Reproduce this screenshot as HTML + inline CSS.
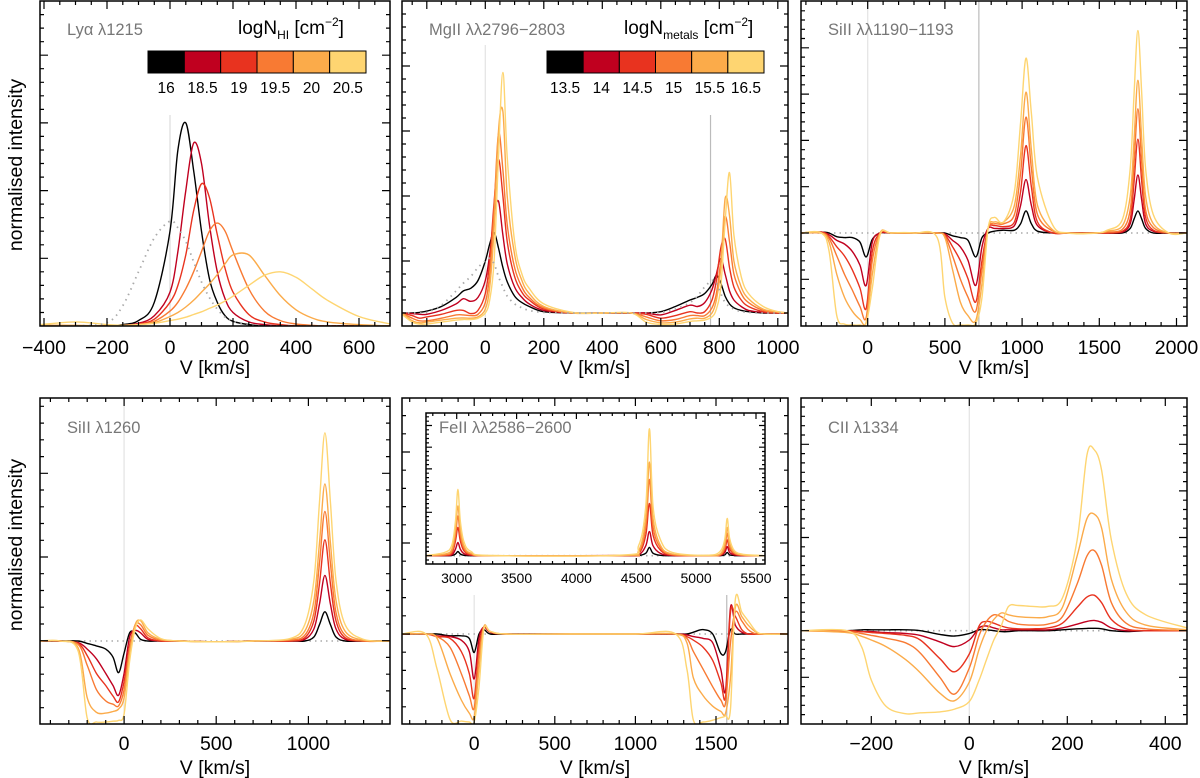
<!DOCTYPE html>
<html><head><meta charset="utf-8">
<style>
html,body{margin:0;padding:0;background:#fff;}
svg{display:block;font-family:"Liberation Sans",sans-serif;}
</style></head>
<body>
<svg id="fig" width="1200" height="778" viewBox="0 0 1200 778" xmlns="http://www.w3.org/2000/svg">
<defs></defs>
<text x="0" y="0" transform="translate(22,165) rotate(-90)" text-anchor="middle" font-size="19.5">normalised intensity</text>
<text x="0" y="0" transform="translate(22,545) rotate(-90)" text-anchor="middle" font-size="19.5">normalised intensity</text>
</svg>
<script>
// ---------- DATA ----------
const seriesColors=['#000000','#c0001f','#e8331f','#f87a33','#fbab4a','#fed571'];
const hiLabels=['16','18.5','19','19.5','20','20.5'];
const metalLabels=['13.5','14','14.5','15','15.5','16.5'];

// Ly-alpha
const lyaV=[-410,-300,-200,-150,-100,-50,0,25,50,75,100,125,150,175,200,250,300,350,400,450,500,600,700];
const lyaBlack=[0,0,0,0.02,0.08,0.35,1.4,2.6,3.0,2.3,1.4,0.7,0.35,0.15,0.07,0.02,0,0,0,0,0,0,0];
const lyaDarkRed=[0,0,0,0.01,0.04,0.15,0.5,1.1,2.0,2.7,2.4,1.5,0.8,0.4,0.2,0.06,0.02,0,0,0,0,0,0];
const lyaRed=[0,0,0,0.01,0.03,0.1,0.35,0.6,1.05,1.7,2.1,1.9,1.35,0.85,0.5,0.17,0.06,0.02,0,0,0,0,0];
const lyaOrange=[0,0,0,0.01,0.02,0.07,0.22,0.35,0.55,0.8,1.1,1.4,1.52,1.4,1.1,0.55,0.22,0.08,0.03,0.01,0,0,0];
const lyaLtOrange=[0.01,0.01,0,0.01,0.02,0.05,0.14,0.2,0.28,0.38,0.5,0.62,0.76,0.92,1.05,1.05,0.75,0.45,0.24,0.12,0.06,0.02,0];
const lyaYellow=[0.02,0.06,0.02,0.01,0.02,0.04,0.08,0.1,0.13,0.17,0.21,0.26,0.31,0.37,0.44,0.6,0.75,0.8,0.72,0.55,0.38,0.14,0.03];
const lyaIntrinsic=[0,0,0.05,0.3,0.8,1.3,1.55,1.45,1.25,0.95,0.65,0.42,0.25,0.13,0.07,0.01,0,0,0,0,0,0,0];

// MgII
const mgV=[-285,-250,-225,-200,-150,-100,-75,-50,-25,0,15,30,45,60,75,100,125,150,200,300,400,500,550,600,650,700,725,750,775,790,805,820,835,850,875,900,950,1000,1035];
const mgBlack=[1,1,1.05,1.15,1.5,2.2,2.7,2.9,3.5,5.0,6.3,7.2,6.0,4.5,3.4,2.3,1.8,1.5,1.1,1,1,1,1,1.1,1.5,2.0,2.2,2.5,3.2,3.9,3.3,2.3,1.7,1.4,1.2,1.1,1,1,1];
const mgDarkRed=[1,0.95,0.9,0.9,1.2,1.7,2.1,1.9,2.2,3.5,5.5,8.5,9.6,7,4.8,3,2.2,1.7,1.2,1,1,1,1,0.85,1.2,1.6,1.5,1.8,2.8,4.0,5.2,4.0,2.7,2.0,1.5,1.2,1.05,1,1];
const mgRed=[1,0.8,0.6,0.7,0.9,1.2,1.2,0.95,1.2,2.5,5,9.5,12.8,10,6.5,3.8,2.6,2.0,1.3,1,1,1,0.9,0.6,0.8,1.1,1.0,1.1,2.0,3.5,6.0,6.7,4.5,3.0,2.0,1.5,1.1,1,1];
const mgOrange=[1,0.6,0.4,0.4,0.6,0.85,0.85,0.8,0.9,1.8,4,9,14.8,12,7.8,4.5,3,2.2,1.4,1,1,1,0.7,0.4,0.5,0.8,0.8,0.8,1.4,2.5,5,8.4,6.5,4,2.5,1.8,1.2,1.05,1];
const mgLtOrange=[1,0.4,0.25,0.3,0.45,0.6,0.62,0.6,0.7,1.3,3,7.5,15,16.5,10,5.5,3.5,2.5,1.5,1,1,1,0.5,0.25,0.3,0.55,0.6,0.6,1.0,2,4.5,9.8,8.5,5,3,2.1,1.3,1.1,1];
const mgYellow=[0.9,0.3,0.15,0.15,0.3,0.45,0.5,0.5,0.6,1.0,2,5,13,19.5,13,6.5,4,2.9,1.7,1.05,1,1,0.3,0.12,0.15,0.35,0.4,0.45,0.7,1.3,3,8,11.8,7,3.8,2.5,1.5,1.1,1];
const mgIntrinsic=[1,1,1,1.05,1.6,2.7,3.3,3.8,4.5,5.0,5.2,4.8,3.8,3,2.3,1.7,1.4,1.2,1.05,1,1,1,1,1.05,1.3,1.8,2.3,3.0,3.5,3.3,2.5,1.8,1.5,1.3,1.1,1.05,1,1,1];

// SiII 1190-1193
const si1190V=[-432,-300,-250,-200,-150,-100,-50,-10,30,80,150,300,450,500,550,600,650,700,740,780,820,880,950,990,1025,1060,1100,1200,1300,1480,1550,1650,1700,1725,1750,1775,1800,1850,1950,2068];
const si1190Black=[1,1.01,1.0,0.96,0.95,0.95,0.9,0.74,0.93,1.0,1.0,1.0,1.0,1.0,0.97,0.95,0.92,0.74,0.95,1.0,1.02,1.03,1.03,1.1,1.24,1.1,1.02,1.0,1.0,1.0,1.0,1.0,1.05,1.15,1.24,1.15,1.05,1.0,1.0,1.0];
const si1190DarkRed=[1,1.01,0.98,0.92,0.88,0.8,0.65,0.43,0.9,1.0,1.0,1.0,1.0,0.99,0.92,0.85,0.7,0.43,0.85,1.05,1.05,1.05,1.08,1.3,1.58,1.3,1.08,1.0,1.0,1.0,1.0,1.01,1.1,1.35,1.63,1.35,1.1,1.02,1.0,1.0];
const si1190Red=[1,1.01,0.96,0.85,0.75,0.6,0.4,0.18,0.8,1.0,1.0,1.0,1.0,0.98,0.85,0.7,0.5,0.25,0.7,1.05,1.08,1.07,1.12,1.45,1.95,1.5,1.12,1.0,1.0,1.0,1.0,1.02,1.15,1.55,2.02,1.55,1.17,1.03,1.0,1.0];
const si1190Orange=[1,1.0,0.94,0.75,0.55,0.38,0.2,0.08,0.7,1.0,1.0,1.0,1.0,0.97,0.75,0.5,0.3,0.15,0.6,1.05,1.1,1.1,1.2,1.65,2.26,1.7,1.2,1.02,1.0,1.0,1.01,1.04,1.25,1.75,2.35,1.75,1.25,1.06,1.0,1.0];
const si1190LtOrange=[1,1.0,0.9,0.55,0.3,0.15,0.06,0.03,0.55,1.0,1.0,1.0,1.0,0.95,0.6,0.25,0.1,0.05,0.45,1.05,1.12,1.12,1.3,1.85,2.53,1.9,1.3,1.03,1.0,1.0,1.02,1.08,1.4,2.0,2.66,2.0,1.4,1.1,1.0,1.0];
const si1190Yellow=[1,1.0,0.8,0.1,0.01,0.0,0.0,0.02,0.4,0.98,1.0,1.0,0.95,0.3,0.02,0.0,0.0,0.02,0.3,1.05,1.17,1.12,1.45,2.2,2.9,2.3,1.6,1.08,1.0,1.0,1.03,1.15,1.7,2.5,3.2,2.5,1.7,1.2,1.0,1.0];

// SiII 1260
const si1260V=[-456,-350,-250,-200,-150,-100,-60,-30,0,30,60,90,130,200,300,500,700,900,980,1030,1060,1090,1120,1150,1200,1300,1443];
const si1260Black=[1,1.0,1.0,0.97,0.94,0.9,0.8,0.61,0.85,1.1,1.1,1.02,1.0,1.0,1.0,0.99,1.0,1.0,1.0,1.05,1.2,1.36,1.2,1.05,1.0,1.0,1.0];
const si1260DarkRed=[1,1.0,0.98,0.9,0.78,0.6,0.45,0.33,0.6,1.05,1.13,1.1,1.02,1.0,1.0,0.99,1.0,1.0,1.02,1.15,1.45,1.81,1.45,1.15,1.02,1.0,1.0];
const si1260Red=[1,1.0,0.97,0.82,0.6,0.45,0.32,0.25,0.5,0.95,1.18,1.15,1.04,1.0,1.0,0.99,1.0,1.0,1.04,1.25,1.7,2.25,1.7,1.25,1.04,1.0,1.0];
const si1260Orange=[1,1.0,0.96,0.7,0.4,0.26,0.22,0.2,0.4,0.9,1.2,1.2,1.07,1.01,1.0,0.99,1.0,1.01,1.07,1.35,1.95,2.6,1.95,1.35,1.07,1.0,1.0];
const si1260LtOrange=[1,1.0,0.92,0.3,0.12,0.11,0.13,0.16,0.3,0.85,1.2,1.25,1.1,1.02,1.0,0.99,1.0,1.02,1.12,1.5,2.2,2.94,2.2,1.5,1.12,1.01,1.0];
const si1260Yellow=[1,1.0,0.88,0.05,0.0,0.0,0.01,0.02,0.1,0.75,1.15,1.26,1.15,1.03,1.0,0.99,1.0,1.03,1.2,1.75,2.7,3.57,2.7,1.75,1.2,1.02,1.0];

// FeII main
const feV=[-449,-300,-230,-150,-80,-30,0,30,60,100,200,600,1000,1250,1320,1360,1420,1480,1530,1560,1590,1620,1660,1700,1750,1800,1947];
const feBlack=[1,1.0,1.0,0.98,0.98,0.95,0.79,1.0,1.05,1.0,1.0,1.0,1.0,1.0,1.0,1.02,1.05,1.0,0.78,0.8,1.05,1.0,1.0,1.0,1.0,1.0,1.0];
const feDarkRed=[1,1.0,0.98,0.97,0.93,0.8,0.49,0.95,1.08,1.02,1.0,1.0,1.0,1.0,0.99,0.97,0.95,0.9,0.6,0.36,1.3,1.1,1.02,1.0,1.0,1.0,1.0];
const feRed=[1,1.0,0.97,0.95,0.8,0.55,0.27,0.85,1.08,1.02,1.0,1.0,1.0,1.0,0.97,0.93,0.85,0.7,0.45,0.29,1.25,1.2,1.05,1.0,1.0,1.0,1.0];
const feOrange=[1,1.0,0.97,0.85,0.55,0.3,0.16,0.75,1.08,1.03,1.0,1.0,1.0,1.0,0.95,0.8,0.6,0.4,0.25,0.22,0.9,1.25,1.15,1.05,1.0,1.0,1.0];
const feLtOrange=[1,1.0,0.95,0.55,0.25,0.1,0.06,0.6,1.08,1.03,1.0,1.0,1.0,1.0,0.9,0.5,0.3,0.18,0.12,0.1,0.5,1.3,1.2,1.1,1.02,1.0,1.0];
const feYellow=[1,1.0,0.6,0.03,0.01,0.0,0.0,0.4,1.05,1.03,1.0,1.0,1.0,1.0,0.6,0.02,0.0,0.02,0.05,0.07,0.15,1.39,1.25,1.15,1.03,1.0,1.0];

// FeII inset (fluorescent)
const feInsetV=[2738,2900,2960,2990,3010,3030,3060,3120,3300,4400,4520,4580,4610,4640,4700,4800,5100,5200,5240,5260,5280,5320,5400,5576];
const feInsetBlack=[1,1,1.02,1.2,1.5,1.2,1.05,1.0,1,1,1.02,1.3,2.0,1.3,1.05,1,1,1,1.1,1.4,1.1,1.02,1,1];
const feInsetDarkRed=[1,1.02,1.1,1.8,2.6,1.8,1.25,1.05,1,1,1.1,2.2,3.9,2.2,1.3,1.03,1,1.02,1.4,2.1,1.4,1.1,1,1];
const feInsetRed=[1,1.05,1.3,2.8,4.4,2.8,1.6,1.1,1,1.02,1.25,3.5,7.3,3.5,1.7,1.08,1,1.05,1.7,2.9,1.8,1.2,1.02,1];
const feInsetOrange=[1,1.1,1.5,3.5,5.8,3.5,1.9,1.2,1,1.03,1.4,4.5,10.2,4.5,2.0,1.12,1,1.1,2.0,3.7,2.1,1.3,1.05,1];
const feInsetLtOrange=[1,1.2,1.8,4.2,7.0,4.2,2.2,1.3,1,1.05,1.6,5.5,12.3,5.5,2.3,1.2,1.02,1.2,2.4,4.4,2.5,1.4,1.08,1];
const feInsetYellow=[1,1.4,2.3,5.2,9.0,5.2,2.7,1.5,1.02,1.1,2.2,7.0,16.3,7.0,3.0,1.4,1.05,1.5,3.0,5.5,3.1,1.6,1.15,1];

// CII
const ciiV=[-343,-250,-220,-200,-170,-130,-100,-60,-30,0,20,35,50,65,80,100,130,160,190,220,240,255,270,290,320,360,444];
const ciiBlack=[1,1,1.01,1.01,1.01,1.01,1.0,0.96,0.943,0.97,1.01,1.01,1.0,0.99,0.99,1.0,1.0,1.0,1.01,1.02,1.025,1.026,1.02,1.0,0.99,1.0,1.0];
const ciiDarkRed=[1,1,0.99,0.99,0.98,0.97,0.95,0.88,0.83,0.9,1.03,1.05,1.03,1.01,1.01,1.01,1.01,1.01,1.03,1.07,1.1,1.11,1.09,1.03,1.0,1.0,1.0];
const ciiRed=[1,1,0.99,0.98,0.97,0.95,0.9,0.7,0.56,0.75,1.05,1.1,1.08,1.05,1.03,1.02,1.02,1.03,1.08,1.25,1.36,1.38,1.3,1.12,1.02,1.0,1.0];
const ciiOrange=[1,0.99,0.97,0.95,0.92,0.87,0.76,0.5,0.32,0.6,0.95,1.1,1.17,1.15,1.1,1.07,1.06,1.07,1.15,1.5,1.8,1.86,1.7,1.3,1.08,1.02,1.0];
const ciiLtOrange=[1,0.98,0.94,0.9,0.83,0.69,0.55,0.33,0.25,0.45,0.8,1.0,1.12,1.19,1.17,1.15,1.14,1.15,1.25,1.8,2.2,2.25,2.1,1.55,1.2,1.06,1.01];
const ciiYellow=[1,1.0,0.83,0.47,0.19,0.11,0.12,0.13,0.16,0.24,0.47,0.69,0.9,1.05,1.26,1.27,1.26,1.26,1.35,1.97,2.88,2.94,2.72,1.97,1.4,1.17,1.03];

// tick labels
const lyaTicks=[-400,-200,0,200,400,600];
const mgTicks=[-200,0,200,400,600,800,1000];
const si1190Ticks=[0,500,1000,1500,2000];
const si1260Ticks=[0,500,1000];
const feTicks=[0,500,1000,1500];
const feInsetTicks=[3000,3500,4000,4500,5000,5500];
const ciiTicks=[-200,0,200,400];

// ---------- DRAWING ----------
const NS='http://www.w3.org/2000/svg';
const svg=document.getElementById('fig');
function mk(tag,attrs,parent){const e=document.createElementNS(NS,tag);for(const k in attrs)e.setAttribute(k,attrs[k]);(parent||svg).appendChild(e);return e;}
function fmt(v){return v<0?'\u2212'+(-v):String(v);}
function smooth(pts){
  let d='M'+pts[0][0].toFixed(1)+','+pts[0][1].toFixed(1);
  for(let i=0;i<pts.length-1;i++){
    const p0=pts[i-1]||pts[i],p1=pts[i],p2=pts[i+1],p3=pts[i+2]||p2;
    const c1x=p1[0]+(p2[0]-p0[0])/6,c1y=p1[1]+(p2[1]-p0[1])/6;
    const c2x=p2[0]-(p3[0]-p1[0])/6,c2y=p2[1]-(p3[1]-p1[1])/6;
    d+='C'+c1x.toFixed(1)+','+c1y.toFixed(1)+' '+c2x.toFixed(1)+','+c2y.toFixed(1)+' '+p2[0].toFixed(1)+','+p2[1].toFixed(1);
  }
  return d;
}
let clipId=0;
function panel(c){
  const g=mk('g',{});
  
  
  const sx=v=>c.x0+(v-c.xmin)/(c.xmax-c.xmin)*(c.x1-c.x0);
  const sy=u=>c.yZero-u*c.ppu;
  const id='clip'+(clipId++);
  const cp=mk('clipPath',{id:id},svg.querySelector('defs'));
  mk('rect',{x:c.x0,y:c.y0,width:c.x1-c.x0,height:c.y1-c.y0},cp);
  const plot=mk('g',{'clip-path':'url(#'+id+')'},g);
  (c.vlines||[]).forEach(vl=>{
    const l=mk('line',{x1:sx(vl.v),x2:sx(vl.v),y1:vl.top,y2:c.y1,stroke:vl.color,'stroke-width':1.2},plot);
    
    
  });
  if(c.continuum){
    const l=mk('line',{x1:c.x0,x2:c.x1,y1:sy(1),y2:sy(1),stroke:'#aaaaaa','stroke-width':1.6,'stroke-dasharray':'1.5,4'},plot);
    
    
  }
  c.series.forEach((s,i)=>{
    const pts=c.v.map((v,j)=>[sx(v),sy(s[j])]);
    const p=mk('path',{d:smooth(pts),fill:'none',stroke:seriesColors[i],'stroke-width':1.4,'stroke-linejoin':'round'},plot);
    
    
  });
  if(c.intrinsic){
    const pts=c.v.map((v,j)=>[sx(v),sy(c.intrinsic[j])]);
    const p=mk('path',{d:smooth(pts),fill:'none',stroke:'#aaaaaa','stroke-width':1.8,'stroke-dasharray':'1.5,4.5'},plot);
    
    
  }
  const fr=mk('rect',{x:c.x0,y:c.y0,width:c.x1-c.x0,height:c.y1-c.y0,fill:'none',stroke:'#000','stroke-width':1.5},g);
  
  
  let tk='';
  const first=Math.ceil(c.xmin/c.minor)*c.minor;
  for(let v=first;v<=c.xmax;v+=c.minor){
    const X=sx(v).toFixed(1);
    const major=Math.abs(v/c.major-Math.round(v/c.major))<1e-6;
    const L=major?c.tl:c.tl/2;
    tk+='M'+X+','+c.y1+'v'+(-L)+'M'+X+','+c.y0+'v'+L;
  }
  const ys=c.yStep/5;
  for(let k=-60;k<=60;k++){
    const Y=c.yAnchor+k*ys;
    if(Y<=c.y0+1||Y>=c.y1-1)continue;
    const L=(k%5===0)?c.tl:c.tl/2;
    tk+='M'+c.x0+','+Y.toFixed(1)+'h'+L+'M'+c.x1+','+Y.toFixed(1)+'h'+(-L);
  }
  const tp=mk('path',{d:tk,stroke:'#000','stroke-width':1.2,fill:'none'},g);
  
  
  c.ticks.forEach(v=>{
    const t=mk('text',{x:sx(v),y:c.y1+c.labOff,'text-anchor':'middle','font-size':c.fs},g);
    t.textContent=fmt(v);
    
    
  });
  if(c.xtitle){
    const t=mk('text',{x:(c.x0+c.x1)/2,y:c.y1+c.titleOff,'text-anchor':'middle','font-size':19.5},g);
    t.textContent='V [km/s]';
    
    
  }
  if(c.label){
    const t=mk('text',{x:c.labelX,y:c.labelY,'font-size':16.5,fill:'#777'},g);
    t.textContent=c.label;
    
    
  }
  return g;
}
function colorbar(x,y,w,h,labels,titleHTML,tx,name){
  const g=mk('g',{});
  
  
  const cw=w/6;
  seriesColors.forEach((col,i)=>{
    const r=mk('rect',{x:x+i*cw,y:y,width:cw,height:h,fill:col,stroke:'#000','stroke-width':1},g);
    
    
    const t=mk('text',{x:x+i*cw+cw/2,y:y+h+20,'text-anchor':'middle','font-size':15.5},g);
    t.textContent=labels[i];
    
    
  });
  const t=mk('text',{x:tx,y:y-17,'font-size':19},g);
  t.innerHTML=titleHTML;
  
  
}

const six=(a,b,c,d,e,f)=>[a,b,c,d,e,f];
panel({name:'panel-lya',key:'lya',x0:40,x1:390,y0:1,y1:326,xmin:-412.7,xmax:698.4,yZero:326,ppu:67.7,
  v:lyaV,series:six(lyaBlack,lyaDarkRed,lyaRed,lyaOrange,lyaLtOrange,lyaYellow),intrinsic:lyaIntrinsic,
  vlines:[{v:0,top:115,color:'#dddddd'}],major:200,minor:50,tl:8,yAnchor:326,yStep:67.7,
  ticks:lyaTicks,labOff:28,titleOff:48,fs:19.5,xtitle:true,label:'Ly\u03b1 \u03bb1215',labelX:67,labelY:35});
panel({name:'panel-mgii',key:'mgii',x0:402,x1:788,y0:1,y1:326,xmin:-284.8,xmax:1034.9,yZero:326,ppu:13,
  v:mgV,series:six(mgBlack,mgDarkRed,mgRed,mgOrange,mgLtOrange,mgYellow),intrinsic:mgIntrinsic,
  vlines:[{v:0,top:45,color:'#e3e3e3'},{v:770,top:115,color:'#bbbbbb'}],major:200,minor:50,tl:8,yAnchor:326,yStep:65,
  ticks:mgTicks,labOff:28,titleOff:48,fs:19.5,xtitle:true,label:'MgII \u03bb\u03bb2796\u22122803',labelX:429,labelY:35});
panel({name:'panel-siii-1190',key:'si1190',x0:801,x1:1187,y0:1,y1:326,xmin:-432,xmax:2068,yZero:325,ppu:92,continuum:true,
  v:si1190V,series:six(si1190Black,si1190DarkRed,si1190Red,si1190Orange,si1190LtOrange,si1190Yellow),
  vlines:[{v:0,top:1,color:'#e3e3e3'},{v:720,top:1,color:'#bbbbbb'}],major:500,minor:100,tl:8,yAnchor:233,yStep:46.3,
  ticks:si1190Ticks,labOff:28,titleOff:48,fs:19.5,xtitle:true,label:'SiII \u03bb\u03bb1190\u22121193',labelX:828,labelY:35});
panel({name:'panel-siii-1260',key:'si1260',x0:40,x1:390,y0:398,y1:724,xmin:-456.3,xmax:1443,yZero:722,ppu:81,continuum:true,
  v:si1260V,series:six(si1260Black,si1260DarkRed,si1260Red,si1260Orange,si1260LtOrange,si1260Yellow),
  vlines:[{v:0,top:398,color:'#e3e3e3'}],major:500,minor:100,tl:8,yAnchor:640.7,yStep:83.7,
  ticks:si1260Ticks,labOff:26,titleOff:50,fs:19.5,xtitle:true,label:'SiII \u03bb1260',labelX:67,labelY:433});
panel({name:'panel-feii',key:'feii',x0:402,x1:788,y0:398,y1:724,xmin:-447.8,xmax:1947,yZero:722,ppu:88,continuum:true,
  v:feV,series:six(feBlack,feDarkRed,feRed,feOrange,feLtOrange,feYellow),
  vlines:[{v:0,top:595,color:'#e3e3e3'},{v:1567,top:595,color:'#bbbbbb'}],major:500,minor:100,tl:8,yAnchor:634,yStep:91,
  ticks:feTicks,labOff:26,titleOff:50,fs:19.5,xtitle:true});
panel({name:'panel-feii-inset',key:'feinset',x0:426,x1:765,y0:413,y1:564,xmin:2743.5,xmax:5575.6,yZero:564,ppu:8.3,continuum:true,
  v:feInsetV,series:six(feInsetBlack,feInsetDarkRed,feInsetRed,feInsetOrange,feInsetLtOrange,feInsetYellow),
  major:500,minor:100,tl:6,yAnchor:555.7,yStep:21.7,
  ticks:feInsetTicks,labOff:19,fs:14,xtitle:false,label:'FeII \u03bb\u03bb2586\u22122600',labelX:439,labelY:433});
panel({name:'panel-cii',key:'cii',x0:801,x1:1187,y0:398,y1:724,xmin:-343.5,xmax:444.3,yZero:724,ppu:93.3,continuum:true,
  v:ciiV,series:six(ciiBlack,ciiDarkRed,ciiRed,ciiOrange,ciiLtOrange,ciiYellow),
  vlines:[{v:0,top:398,color:'#e3e3e3'}],major:200,minor:50,tl:8,yAnchor:630.7,yStep:46.6,
  ticks:ciiTicks,labOff:26,titleOff:50,fs:19.5,xtitle:true,label:'CII \u03bb1334',labelX:828,labelY:433});

colorbar(148,51,218,22,hiLabels,'logN<tspan font-size="12" dy="5">HI</tspan><tspan dy="-5"> [cm</tspan><tspan font-size="12" dy="-8">\u22122</tspan><tspan dy="8">]</tspan>',238,'legend-hi-column-density');
colorbar(547,51,217,22,metalLabels,'logN<tspan font-size="12" dy="5">metals</tspan><tspan dy="-5"> [cm</tspan><tspan font-size="12" dy="-8">\u22122</tspan><tspan dy="8">]</tspan>',624,'legend-metal-column-density');
</script>
</body></html>
